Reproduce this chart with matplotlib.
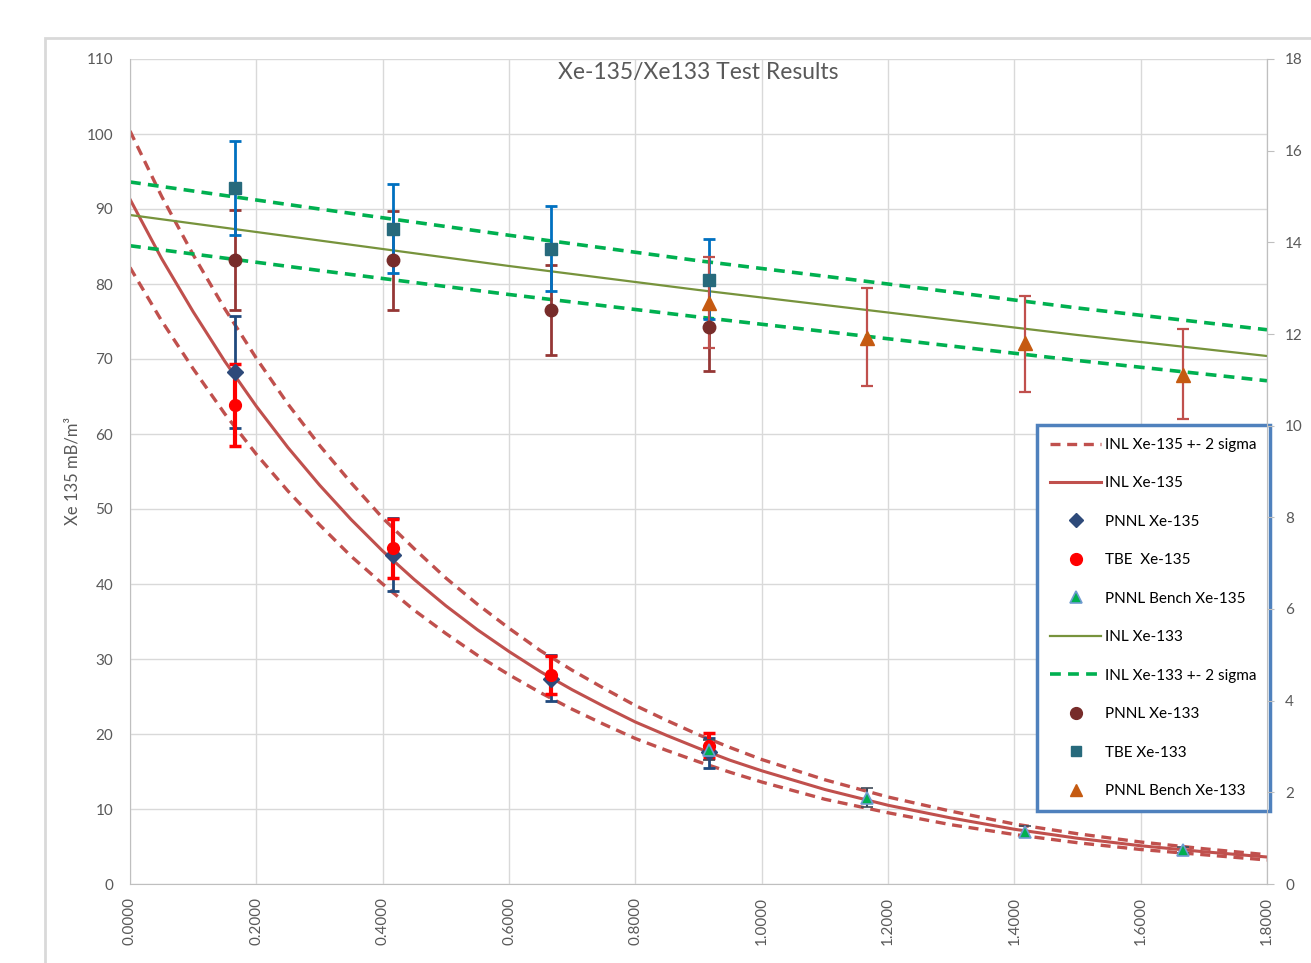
import matplotlib.pyplot as plt
from matplotlib.patches import Rectangle
from matplotlib.lines import Line2D

plt.rcParams['font.family'] = ['Lato', 'DejaVu Sans']

# fitted curves (x in days)
curve_x = [0.0, 0.05, 0.1, 0.15, 0.2, 0.25, 0.3, 0.35, 0.4, 0.45, 0.5, 0.55,
           0.6, 0.65, 0.7, 0.75, 0.8, 0.85, 0.9, 0.95,
           1.0, 1.1, 1.2, 1.3, 1.4, 1.5, 1.6, 1.7, 1.8]
inl135 = [91.3, 83.4, 76.3, 69.7, 63.7, 58.2, 53.2, 48.6, 44.4, 40.6, 37.1, 33.9,
          31.0, 28.3, 25.9, 23.7, 21.6, 19.8, 18.1, 16.5,
          15.1, 12.6, 10.5, 8.8, 7.3, 6.1, 5.1, 4.3, 3.6]
inl135_hi = [100.4, 91.7, 83.9, 76.7, 70.1, 64.0, 58.5, 53.5, 48.8, 44.7, 40.8, 37.3,
             34.1, 31.1, 28.5, 26.1, 23.8, 21.8, 19.9, 18.2,
             16.6, 13.9, 11.6, 9.7, 8.0, 6.7, 5.6, 4.7, 3.9]
inl135_lo = [82.2, 75.1, 68.7, 62.7, 57.3, 52.4, 47.9, 43.7, 40.0, 36.5, 33.4, 30.5,
             27.9, 25.5, 23.3, 21.3, 19.4, 17.8, 16.3, 14.9,
             13.6, 11.3, 9.5, 7.9, 6.6, 5.5, 4.6, 3.9, 3.2]

x133 = [0.0, 0.3, 0.6, 0.9, 1.2, 1.5, 1.8]
inl133 = [89.2, 85.8, 82.4, 79.2, 76.2, 73.2, 70.4]
inl133_hi = [93.6, 90.0, 86.5, 83.1, 80.0, 76.8, 73.9]
inl133_lo = [85.1, 81.8, 78.6, 75.6, 72.7, 69.8, 67.1]

# measurements
t4 = [0.1667, 0.4167, 0.6667, 0.9167]
t_bench = [0.9167, 1.1667, 1.4167, 1.6667]

pnnl135 = [68.2, 43.9, 27.3, 17.6]
pnnl135_lo = [60.8, 39.1, 24.4, 15.5]
pnnl135_hi = [75.7, 48.8, 30.5, 19.5]

tbe135 = [63.8, 44.8, 27.9, 18.4]
tbe135_lo = [58.4, 40.8, 25.4, 16.8]
tbe135_hi = [69.3, 48.7, 30.4, 20.1]

bench135 = [17.9, 11.5, 7.0, 4.5]
bench135_lo = [16.6, 10.3, 6.3, 4.1]
bench135_hi = [19.2, 12.8, 7.8, 4.9]

pnnl133 = [83.2, 83.2, 76.6, 74.3]
pnnl133_lo = [76.6, 76.6, 70.5, 68.4]
pnnl133_hi = [89.8, 89.7, 82.6, 80.2]

tbe133 = [92.8, 87.3, 84.7, 80.6]
tbe133_lo = [86.6, 81.5, 79.1, 75.3]
tbe133_hi = [99.0, 93.3, 90.4, 86.0]

bench133 = [77.5, 72.8, 72.1, 67.8]
bench133_lo = [71.5, 66.4, 65.6, 62.0]
bench133_hi = [83.6, 79.4, 78.4, 74.0]


def err(vals, lo, hi):
    return [[v - l for v, l in zip(vals, lo)], [h - v for v, h in zip(vals, hi)]]


fig = plt.figure(figsize=(13.11, 9.63), dpi=100)
ax = fig.add_axes([130 / 1311, 1 - 884 / 963, 1137 / 1311, 825 / 963])

# outer chart frame
fig.patches.append(Rectangle((45 / 1311, -0.1), 1.2, 1 - 38 / 963 + 0.1,
                             transform=fig.transFigure, fill=False,
                             edgecolor='#D9D9D9', linewidth=2))

red = '#C0504D'
ax.plot(curve_x, inl135_hi, color=red, lw=2.4, dashes=(3, 2))
ax.plot(curve_x, inl135, color=red, lw=2.2)
ax.plot(curve_x, inl135_lo, color=red, lw=2.4, dashes=(3, 2))

ax.errorbar(t4, pnnl135, yerr=err(pnnl135, pnnl135_lo, pnnl135_hi), fmt='D', ms=8,
            color='#2E4A7A', ecolor='#1F497D', elinewidth=2, capsize=4, capthick=2)
ax.errorbar(t4, tbe135, yerr=err(tbe135, tbe135_lo, tbe135_hi), fmt='o', ms=8.5,
            color='#FF0000', ecolor='#FF0000', elinewidth=3, capsize=4, capthick=2.5)
ax.errorbar(t_bench, bench135, yerr=err(bench135, bench135_lo, bench135_hi), fmt='^', ms=9,
            mfc='#00B050', mec='#6F9BD1', mew=1.2, ecolor='#404A58', elinewidth=1.5,
            capsize=4, capthick=1.5)

ax.plot(x133, inl133, color='#77933C', lw=1.6)
ax.plot(x133, inl133_hi, color='#00B050', lw=2.6, dashes=(3, 2))
ax.plot(x133, inl133_lo, color='#00B050', lw=2.6, dashes=(3, 2))

ax.errorbar(t4, pnnl133, yerr=err(pnnl133, pnnl133_lo, pnnl133_hi), fmt='o', ms=9,
            color='#772C2A', ecolor='#953735', elinewidth=2, capsize=4, capthick=2)
ax.errorbar(t4, tbe133, yerr=err(tbe133, tbe133_lo, tbe133_hi), fmt='s', ms=8,
            color='#276A7C', ecolor='#0070C0', elinewidth=2, capsize=4, capthick=2)
ax.errorbar(t_bench, bench133, yerr=err(bench133, bench133_lo, bench133_hi), fmt='^', ms=10,
            color='#C55A11', ecolor='#C0504D', elinewidth=1.6, capsize=4, capthick=1.6)

ax.set_xlim(0, 1.8)
ax.set_ylim(0, 110)
ax.set_xticks([i * 0.2 for i in range(10)])
ax.set_xticklabels(['%.4f' % (i * 0.2) for i in range(10)], rotation=90)
ax.set_yticks(range(0, 111, 10))
ax.grid(True, color='#D9D9D9', lw=1)
ax.set_axisbelow(True)
ax.tick_params(length=0, labelsize=11, labelcolor='#595959')
ax.tick_params(axis='y', pad=12)
ax.tick_params(axis='x', pad=9)
ax.spines['top'].set_visible(False)
for s in ['left', 'bottom', 'right']:
    ax.spines[s].set_color('#BFBFBF')

ax2 = ax.twinx()
ax2.set_ylim(0, 18)
ax2.set_yticks(range(0, 19, 2))
ax2.tick_params(axis='y', length=5, color='#BFBFBF', labelsize=11, labelcolor='#595959', pad=8)
for s in ['top', 'left', 'bottom']:
    ax2.spines[s].set_visible(False)
ax2.spines['right'].set_color('#BFBFBF')

fig.text(698 / 1311, 1 - 72 / 963, 'Xe-135/Xe133 Test Results', ha='center', va='center',
         fontsize=16.5, color='#595959')
fig.text(72 / 1311, 1 - 471 / 963, 'Xe 135 mB/m³', rotation=90, ha='center', va='center',
         fontsize=12, color='#595959')

handles = [
    Line2D([], [], color=red, lw=2.4, dashes=(3, 2)),
    Line2D([], [], color=red, lw=2.2),
    Line2D([], [], ls='none', marker='D', ms=7, color='#2E4A7A'),
    Line2D([], [], ls='none', marker='o', ms=8.5, color='#FF0000'),
    Line2D([], [], ls='none', marker='^', ms=8, mfc='#00B050', mec='#6F9BD1', mew=1.2),
    Line2D([], [], color='#77933C', lw=1.6),
    Line2D([], [], color='#00B050', lw=2.6, dashes=(3, 2)),
    Line2D([], [], ls='none', marker='o', ms=8.5, color='#772C2A'),
    Line2D([], [], ls='none', marker='s', ms=7.5, color='#276A7C'),
    Line2D([], [], ls='none', marker='^', ms=9, color='#C55A11'),
]
labels = ['INL Xe-135 +- 2 sigma', 'INL Xe-135', 'PNNL Xe-135', 'TBE  Xe-135',
          'PNNL Bench Xe-135', 'INL Xe-133', 'INL Xe-133 +- 2 sigma', 'PNNL Xe-133',
          'TBE Xe-133', 'PNNL Bench Xe-133']
leg = ax.legend(handles, labels, loc='upper right', bbox_to_anchor=(1.0026, 0.5564),
                borderaxespad=0, fontsize=11, labelspacing=1.6, handlelength=3.3,
                handletextpad=0.3, borderpad=0.85, fancybox=False, framealpha=1)
leg.get_frame().set_edgecolor('#4F81BD')
leg.get_frame().set_linewidth(2.5)
leg.set_zorder(10)

fig.savefig('out.png', dpi=100)
